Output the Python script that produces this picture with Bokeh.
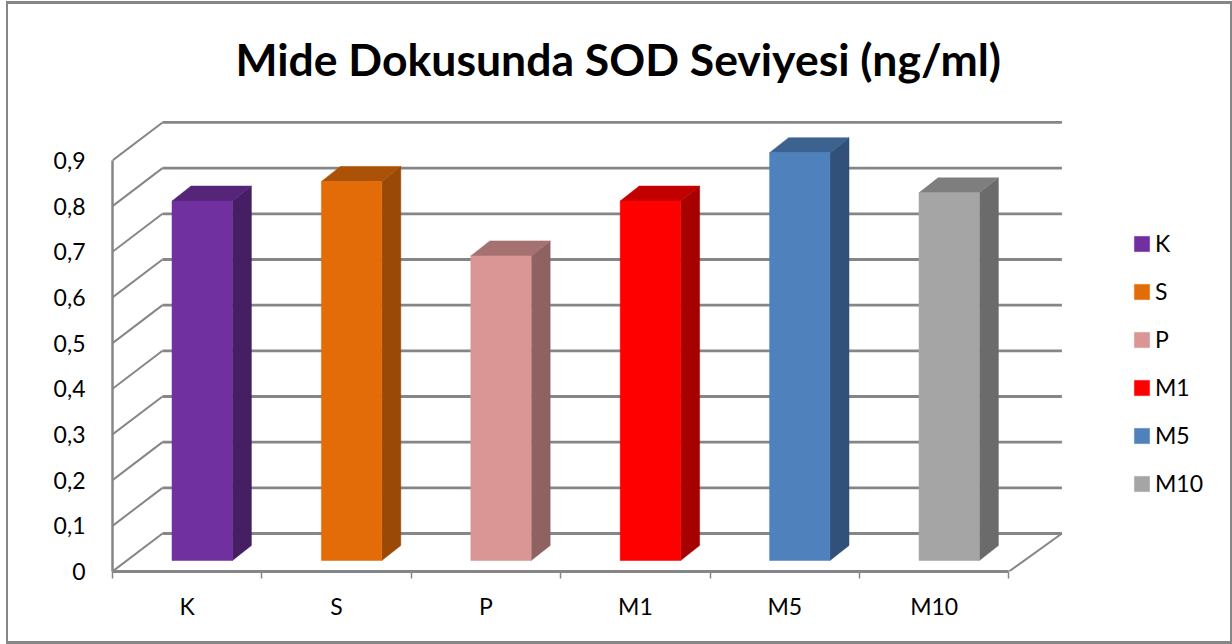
from bokeh.plotting import figure
from bokeh.models import (Range1d, LinearAxis, FixedTicker, Legend, LegendItem, Label)
from bokeh.embed import file_html
from bokeh.resources import INLINE

categories = ["K", "S", "P", "M1", "M5", "M10"]
values = [0.787, 0.83, 0.667, 0.787, 0.893, 0.805]
y_ticks = [0, 0.1, 0.2, 0.3, 0.4, 0.5, 0.6, 0.7, 0.8, 0.9]
y_labels = ["0", "0,1", "0,2", "0,3", "0,4", "0,5", "0,6", "0,7", "0,8", "0,9"]
front_colors = ["#7030a0", "#e36c09", "#d99694", "#ff0000", "#4f81bd", "#a5a5a5"]
top_colors = ["#55257a", "#ac5207", "#a57271", "#c20000", "#3c6290", "#7e7e7e"]
side_colors = ["#451e63", "#9a4907", "#8e6261", "#a60000", "#31507a", "#6b6b6b"]
title_text = "Mide Dokusunda SOD Seviyesi (ng/ml)"

OX, OY = 8, 4                # where the canvas starts on the page, inside the border
W, H = 1230 - OX, 641 - OY
BORDER_X, BORDER_Y = 4, 6    # the canvas is laid out with the border counted in
FONT = "Lato"
GRAY = "#868686"
PX_X = 149.4                 # pixels per category
PX_Y = 456.7                 # pixels per unit of value
LEFT, BOTTOM, RIGHT = 112 - OX, 571 - OY, W

p = figure(width=W, height=H, output_backend="svg", toolbar_location=None,
           x_range=Range1d(0, (RIGHT - LEFT) / PX_X),
           y_range=Range1d(0, BOTTOM / PX_Y),
           x_axis_type=None, y_axis_type=None,
           min_border_left=LEFT, min_border_right=BORDER_X,
           min_border_top=0, min_border_bottom=H - BOTTOM + BORDER_Y,
           outline_line_color=None, background_fill_color="white",
           border_fill_color="white")
p.grid.visible = False
p.styles = {"position": "absolute", "left": "6px", "top": "1px",
            "box-sizing": "content-box",
            "border-style": "solid", "border-color": GRAY,
            "border-width": "3px 2px 3px 2px"}

n = len(categories)
wall_dx, wall_dy = 50 / PX_X, 38 / PX_Y
wall_end = n + 53 / PX_X
bar_off_x, bar_off_y = 15 / PX_X, 11 / PX_Y
bar_half = 30.2 / PX_X
bar_dx, bar_dy = 19 / PX_X, 15 / PX_Y

# walls: grid on the back wall, diagonals on the side wall, floor edge
p.segment(x0=[wall_dx] * len(y_ticks), x1=[wall_end] * len(y_ticks),
          y0=[t + wall_dy for t in y_ticks], y1=[t + wall_dy for t in y_ticks],
          line_color=GRAY, line_width=2.8)
p.segment(x0=[0] * len(y_ticks), x1=[wall_dx] * len(y_ticks),
          y0=y_ticks, y1=[t + wall_dy for t in y_ticks],
          line_color=GRAY, line_width=2)
p.segment(x0=[n], x1=[wall_end], y0=[0], y1=[wall_dy], line_color=GRAY, line_width=2)

# bars
items = []
for i, (c, v) in enumerate(zip(categories, values)):
    xl = i + 0.5 + bar_off_x - bar_half
    xr = i + 0.5 + bar_off_x + bar_half
    y0, y1 = bar_off_y, v + bar_off_y
    p.patch([xr, xr + bar_dx, xr + bar_dx, xr], [y0, y0 + bar_dy, y1 + bar_dy, y1],
            fill_color=side_colors[i], line_color=side_colors[i], line_width=0.5)
    p.patch([xl, xl + bar_dx, xr + bar_dx, xr], [y1, y1 + bar_dy, y1 + bar_dy, y1],
            fill_color=top_colors[i], line_color=top_colors[i], line_width=0.5)
    r = p.quad(left=[xl], right=[xr], bottom=[y0], top=[y1],
               fill_color=front_colors[i], line_color=front_colors[i], line_width=0.5)
    items.append(LegendItem(label=c, renderers=[r]))

# value axis
ya = LinearAxis(ticker=FixedTicker(ticks=y_ticks),
                major_label_overrides=dict(zip(y_ticks, y_labels)),
                bounds=(0, 0.9), axis_line_color=GRAY, axis_line_width=2.5,
                major_tick_in=0, major_tick_out=0, minor_tick_line_color=None,
                major_label_standoff=27, major_label_text_font=FONT,
                major_label_text_font_size="23px", major_label_text_color="#000000")
p.add_layout(ya, "left")

# category axes: tick marks between categories, labels at their centres
edges = list(range(n + 1))
xa = LinearAxis(ticker=FixedTicker(ticks=edges), bounds=(0, n),
                major_label_overrides={e: "" for e in edges},
                axis_line_color=GRAY, axis_line_width=3,
                major_tick_line_color=GRAY, major_tick_line_width=1.5,
                major_tick_in=0, major_tick_out=7, minor_tick_line_color=None,
                major_label_standoff=0, major_label_text_font_size="1px")
p.add_layout(xa, "below")
mid = [i + 0.5 for i in range(n)]
xb = LinearAxis(ticker=FixedTicker(ticks=mid),
                major_label_overrides=dict(zip(mid, categories)),
                axis_line_color=None, major_tick_line_color=None,
                minor_tick_line_color=None, major_label_standoff=7,
                major_label_text_font=FONT, major_label_text_font_size="23px",
                major_label_text_color="#000000")
p.add_layout(xb, "below")

p.add_layout(Label(x=233 - OX, y=55 - OY, x_units="canvas", y_units="canvas",
                   text=title_text, text_font=FONT, text_font_style="bold",
                   text_font_size="44.5px", text_color="#000000",
                   text_align="left", text_baseline="middle"))

legend = Legend(items=items, location=(1020, 74), orientation="vertical",
                glyph_width=19, glyph_height=19, spacing=20, padding=0, margin=0,
                label_text_font=FONT, label_text_font_size="23px",
                label_text_color="#000000", label_standoff=4, label_height=24,
                border_line_color=None, background_fill_alpha=0)
p.add_layout(legend, "center")

open("out.html", "w").write(file_html(p, INLINE))
